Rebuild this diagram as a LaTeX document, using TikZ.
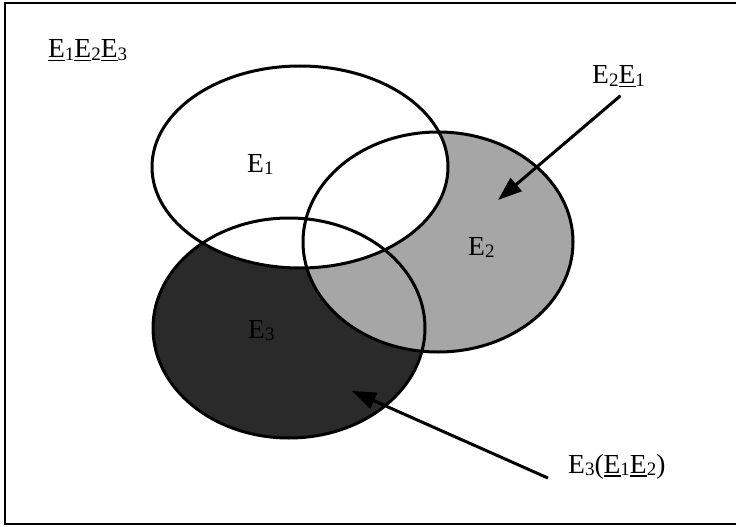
\documentclass[tikz,border=0pt]{standalone}
\usepackage{fontspec}
\setmainfont{Liberation Serif}
\usepackage{xcolor}
\usetikzlibrary{arrows.meta,positioning}
\definecolor{shadeDark}{HTML}{2A2A2A}
\definecolor{shadeLight}{HTML}{A6A6A6}
\providecommand{\Ev}[1]{E\raisebox{-2pt}{\fontsize{19}{20}\selectfont #1}}
\providecommand{\uEv}[1]{\leavevmode\rlap{\rule[-3.5pt]{17pt}{1.7pt}}\Ev{#1}}

\begin{document}
\begin{tikzpicture}[
    x=1pt,y=-1pt,
    every node/.style={font=\fontsize{27.5}{30}\selectfont,inner sep=0pt},
    outline/.style={draw=black,line width=3pt},
    pointer/.style={line width=3pt,-{Triangle[length=24pt,width=17pt]}}
  ]
  \useasboundingbox (0,0) rectangle (736,527);
  \draw[line width=2.4pt] (745,3) -- (5,3) -- (5,524) -- (745,524);
  %% Centres of the three sets
  \coordinate (c1) at (300,167);
  \coordinate (c2) at (438,242);
  \coordinate (c3) at (289,328);
  %% Shading: E3 dark, E2 light, E1 white on top
  \fill[shadeDark] (c3) ellipse [x radius=136pt,y radius=110pt];
  \fill[shadeLight] (c2) ellipse [x radius=135pt,y radius=110pt];
  \fill[white] (c1) ellipse [x radius=148pt,y radius=101pt];
  %% Outlines
  \draw[outline] (c1) ellipse [x radius=148pt,y radius=101pt];
  \draw[outline] (c2) ellipse [x radius=135pt,y radius=110pt];
  \draw[outline] (c3) ellipse [x radius=136pt,y radius=110pt];
  %% Set labels
  \node[anchor=base west] (e1) at (247,172) {\Ev{1}};
  \node[anchor=base west] (e2) at (468,255) {\Ev{2}};
  \node[anchor=base west] (e3) at (248,338) {\Ev{3}};
  %% Outer labels
  \node[anchor=base west] (all) at (48,58) {\uEv{1}\uEv{2}\uEv{3}};
  \node[anchor=base west] (e2n1) at (592,84) {\Ev{2}\uEv{1}};
  \node[anchor=base west] (e3n12) at (568,473) {\Ev{3}(\uEv{1}\uEv{2})};
  %% Arrow tips
  \coordinate (tip2) at (498,200);
  \coordinate (tip3) at (352,391);
  \draw[pointer] (e2n1.south) ++(2,8) -- (tip2);
  \draw[pointer] ([shift={(-20,-1)}]e3n12.south west) -- (tip3);
\end{tikzpicture}
\end{document}
